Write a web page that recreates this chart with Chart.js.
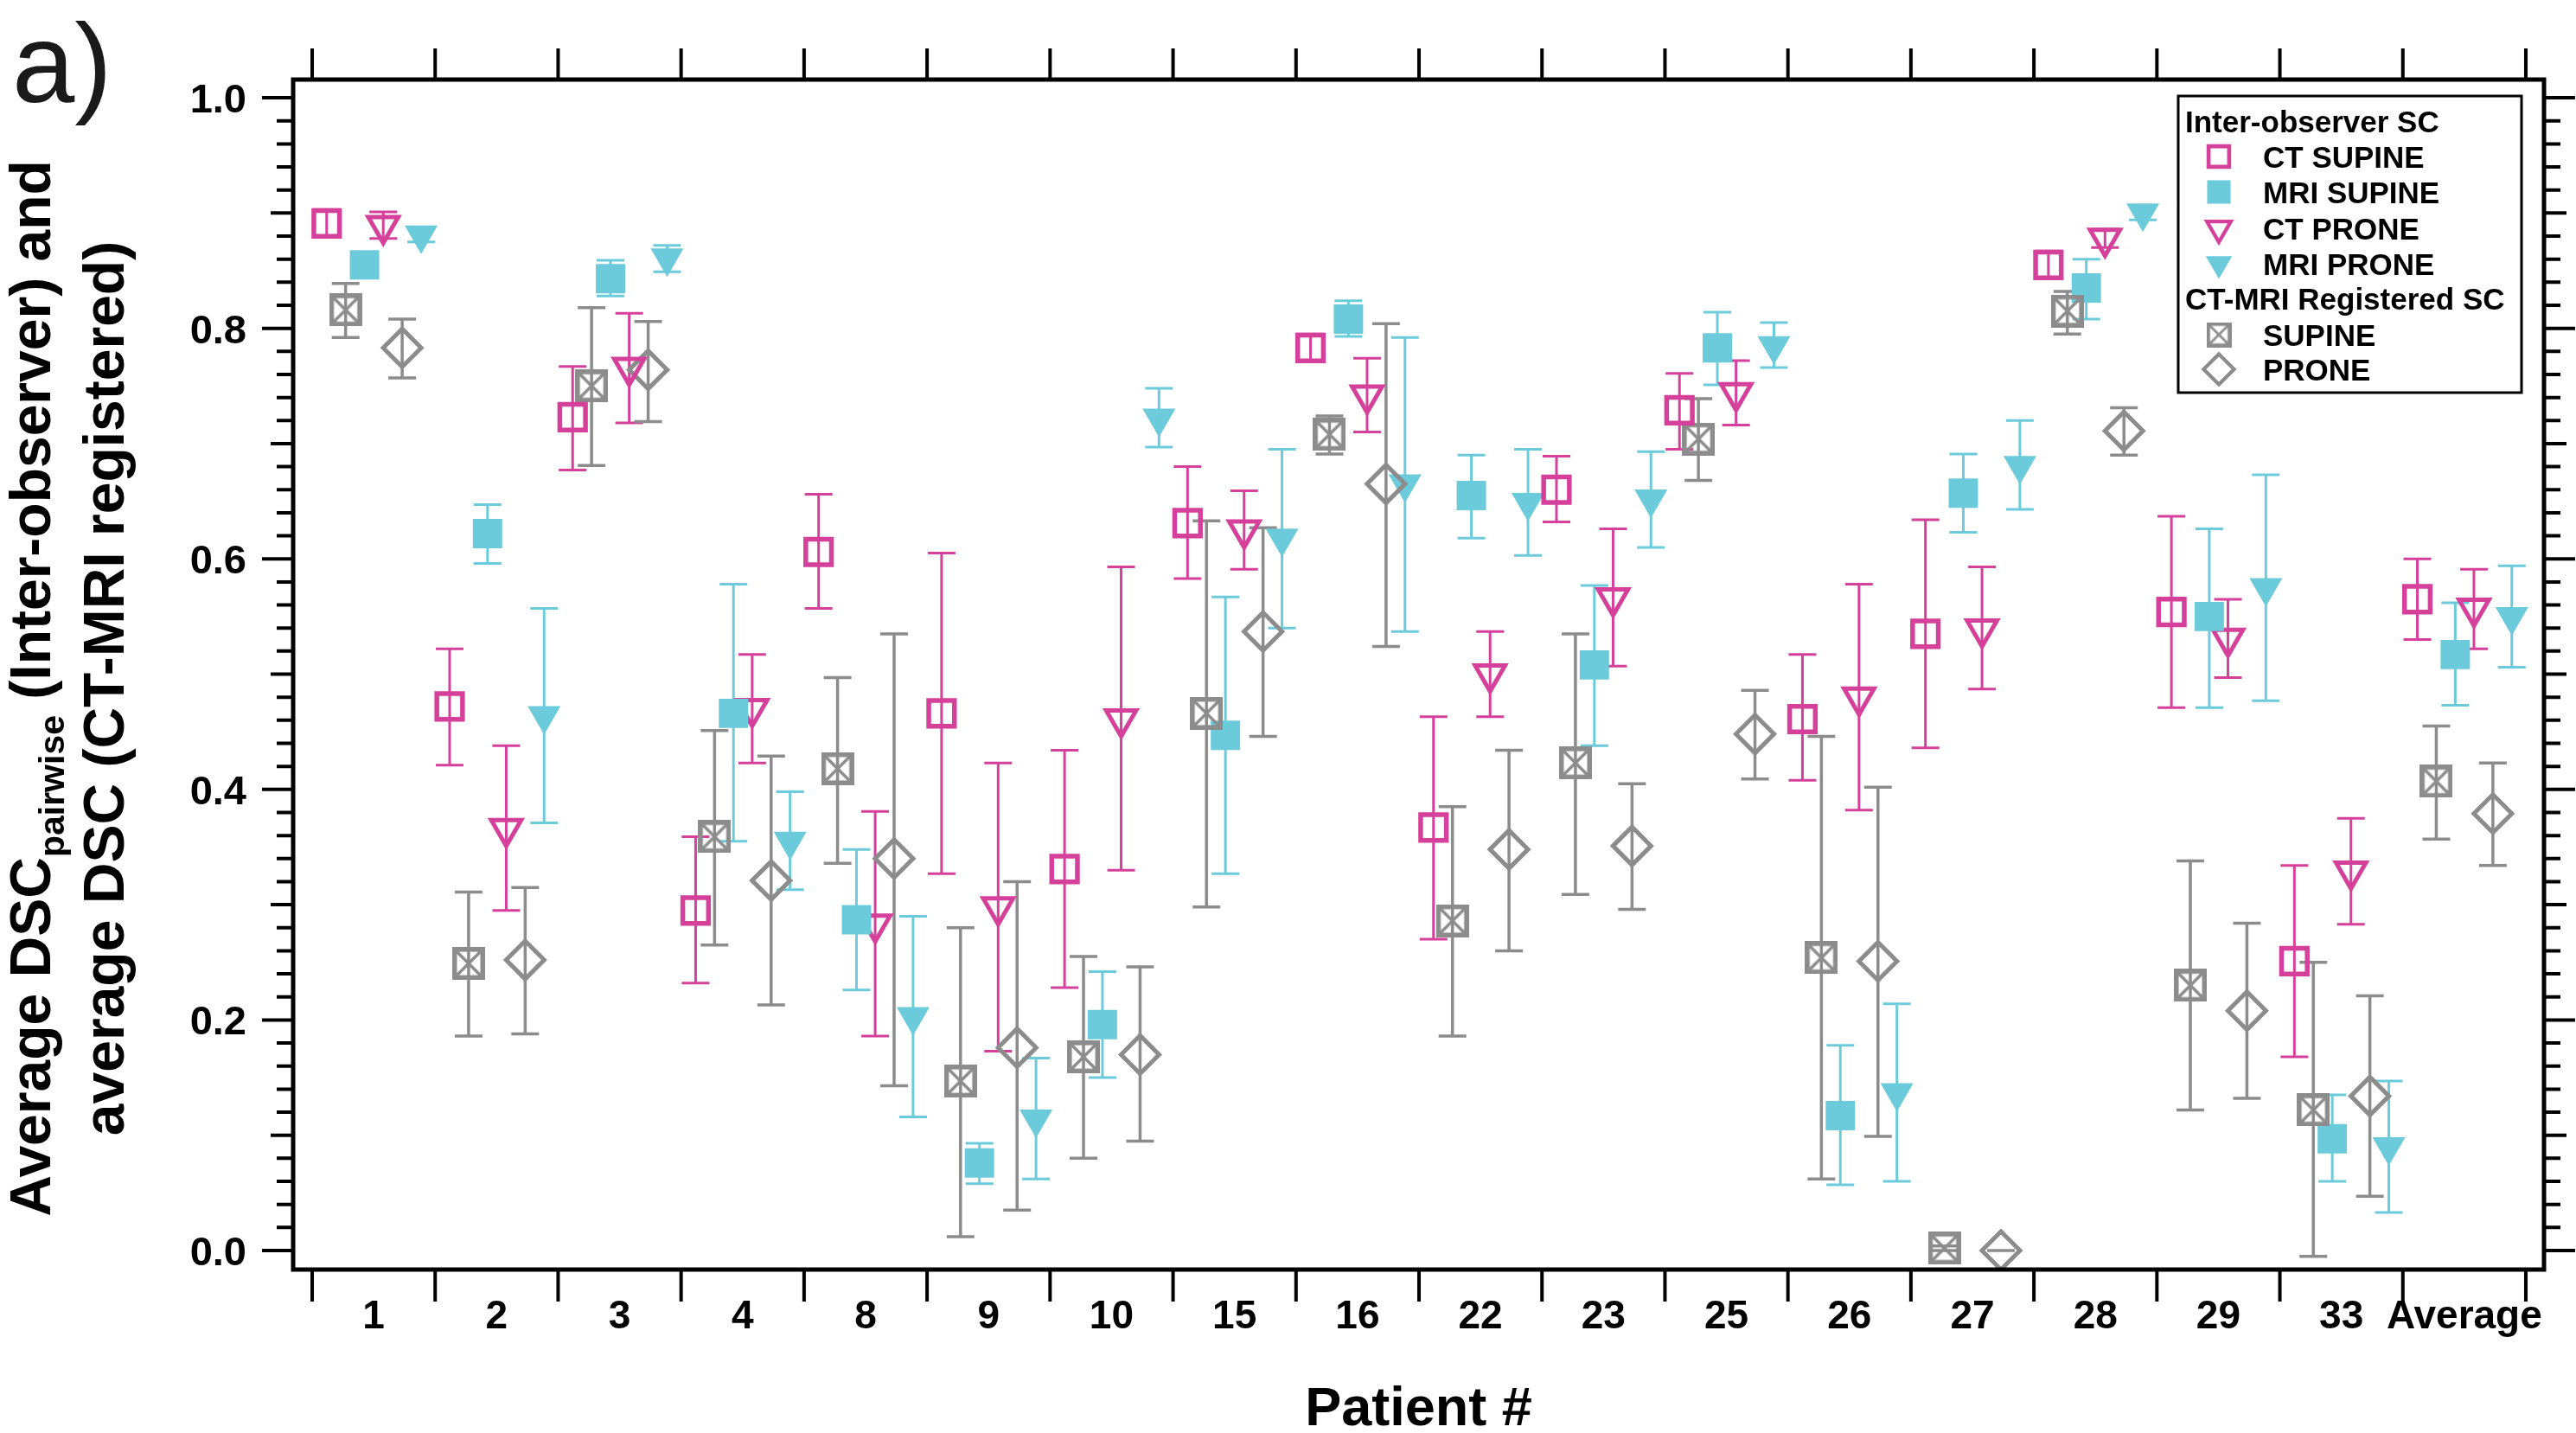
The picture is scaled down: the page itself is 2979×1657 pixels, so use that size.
<!DOCTYPE html>
<html>
<head>
<meta charset="utf-8">
<title>DSC per patient</title>
<script src="https://cdn.jsdelivr.net/npm/chart.js@4.4.1/dist/chart.umd.min.js"></script>
<style>
  html, body { margin: 0; padding: 0; background: #fff; }
  #wrap { width: 2979px; height: 1657px; }
</style>
</head>
<body>
<div id="wrap"><canvas id="dsc-chart" width="2979" height="1657"></canvas></div>
<script>
// Categories on the x axis
const patients = ['1', '2', '3', '4', '8', '9', '10', '15', '16', '22', '23', '25', '26', '27', '28', '29', '33', 'Average'];
// Labelled ticks on the y axis
const yTickValues = [0.0, 0.2, 0.4, 0.6, 0.8, 1.0];

// Inter-observer SC: CT SUPINE (mean, lower, upper)
const ctSupine   = [0.891, 0.472, 0.723, 0.295, 0.606, 0.466, 0.331, 0.631, 0.783, 0.367, 0.660, 0.729, 0.461, 0.535, 0.855, 0.554, 0.251, 0.565];
const ctSupineLo = [0.879, 0.421, 0.677, 0.232, 0.557, 0.327, 0.228, 0.583, 0.771, 0.270, 0.632, 0.695, 0.408, 0.436, 0.843, 0.471, 0.168, 0.530];
const ctSupineHi = [0.903, 0.522, 0.767, 0.359, 0.656, 0.605, 0.434, 0.680, 0.795, 0.463, 0.689, 0.761, 0.517, 0.634, 0.867, 0.637, 0.334, 0.600];

// Inter-observer SC: MRI SUPINE
const mriSupine   = [0.855, 0.622, 0.843, 0.466, 0.287, 0.076, 0.196, 0.447, 0.808, 0.655, 0.508, 0.783, 0.117, 0.657, 0.835, 0.550, 0.097, 0.517];
const mriSupineLo = [0.845, 0.596, 0.828, 0.355, 0.226, 0.058, 0.150, 0.327, 0.793, 0.618, 0.438, 0.751, 0.057, 0.623, 0.808, 0.471, 0.060, 0.473];
const mriSupineHi = [0.865, 0.647, 0.859, 0.578, 0.348, 0.093, 0.242, 0.567, 0.824, 0.690, 0.577, 0.814, 0.178, 0.691, 0.860, 0.626, 0.135, 0.562];

// Inter-observer SC: CT PRONE
const ctProne   = [0.889, 0.366, 0.766, 0.470, 0.283, 0.298, 0.461, 0.625, 0.742, 0.500, 0.566, 0.744, 0.480, 0.539, 0.878, 0.531, 0.329, 0.557];
const ctProneLo = [0.878, 0.295, 0.718, 0.423, 0.186, 0.173, 0.330, 0.591, 0.710, 0.463, 0.507, 0.716, 0.382, 0.487, 0.870, 0.497, 0.283, 0.522];
const ctProneHi = [0.901, 0.438, 0.813, 0.517, 0.381, 0.423, 0.593, 0.659, 0.774, 0.537, 0.626, 0.772, 0.578, 0.593, 0.886, 0.565, 0.375, 0.591];

// Inter-observer SC: MRI PRONE
const mriProne   = [0.881, 0.464, 0.861, 0.355, 0.203, 0.114, 0.722, 0.618, 0.665, 0.649, 0.652, 0.785, 0.137, 0.681, 0.900, 0.575, 0.090, 0.550];
const mriProneLo = [0.875, 0.371, 0.849, 0.313, 0.116, 0.062, 0.697, 0.540, 0.537, 0.603, 0.610, 0.766, 0.060, 0.643, 0.894, 0.477, 0.033, 0.506];
const mriProneHi = [0.887, 0.557, 0.872, 0.398, 0.290, 0.167, 0.748, 0.695, 0.792, 0.695, 0.693, 0.805, 0.214, 0.720, 0.906, 0.673, 0.147, 0.594];

// CT-MRI Registered SC: SUPINE
const regSupine   = [0.816, 0.249, 0.750, 0.359, 0.418, 0.147, 0.168, 0.466, 0.708, 0.286, 0.423, 0.704, 0.254, 0.002, 0.815, 0.230, 0.122, 0.407];
const regSupineLo = [0.792, 0.186, 0.681, 0.265, 0.336, 0.012, 0.080, 0.298, 0.691, 0.186, 0.309, 0.668, 0.062, 0.000, 0.795, 0.122, -0.005, 0.357];
const regSupineHi = [0.839, 0.311, 0.818, 0.451, 0.497, 0.280, 0.255, 0.633, 0.724, 0.385, 0.535, 0.739, 0.446, 0.004, 0.832, 0.338, 0.250, 0.455];

// CT-MRI Registered SC: PRONE
const regProne   = [0.783, 0.252, 0.764, 0.321, 0.340, 0.176, 0.170, 0.537, 0.665, 0.348, 0.351, 0.448, 0.251, 0.000, 0.711, 0.208, 0.134, 0.379];
const regProneLo = [0.757, 0.188, 0.719, 0.213, 0.143, 0.035, 0.095, 0.446, 0.524, 0.260, 0.296, 0.409, 0.099, 0.000, 0.690, 0.132, 0.047, 0.334];
const regProneHi = [0.808, 0.315, 0.806, 0.429, 0.535, 0.320, 0.246, 0.627, 0.804, 0.434, 0.405, 0.486, 0.402, 0.000, 0.731, 0.284, 0.221, 0.423];

const MAGENTA = '#d4409a';
const CYAN = '#6ccbdb';
const GRAY = '#8c8c8c';
const NONE = 'rgba(0,0,0,0)';
const FONT = '"Liberation Sans", Arial, Helvetica, sans-serif';

// where each series sits inside its patient slot (in category units)
const slotOffsets = [-0.382, -0.228, -0.074, 0.078, 0.232, 0.386];

// square with an X inside, used as point style for the registered SUPINE series
function makeBoxX(size, lw, color) {
    const c = document.createElement('canvas');
    c.width = size;
    c.height = size;
    const g = c.getContext('2d');
    const h = lw / 2;
    g.strokeStyle = color;
    g.lineWidth = lw;
    g.strokeRect(h, h, size - lw, size - lw);
    g.lineWidth = lw * 0.65;
    g.beginPath();
    g.moveTo(h, h); g.lineTo(size - h, size - h);
    g.moveTo(size - h, h); g.lineTo(h, size - h);
    g.stroke();
    return c;
}
const boxX = makeBoxX(38, 5.5, GRAY);
const boxXSmall = makeBoxX(29, 4.4, GRAY);

function makeSet(label, mean, lo, hi, slot, style) {
    return Object.assign({
        label: label,
        data: mean.map((v, i) => ({ x: i + slotOffsets[slot], y: v })),
        lo: lo,
        hi: hi
    }, style);
}

const datasets = [
    makeSet('CT SUPINE', ctSupine, ctSupineLo, ctSupineHi, 0, {
        pointStyle: 'rect', pointRadius: 21, pointBorderWidth: 5.5,
        pointBorderColor: MAGENTA, pointBackgroundColor: NONE, barColor: MAGENTA, barWidth: 3
    }),
    makeSet('SUPINE', regSupine, regSupineLo, regSupineHi, 1, {
        pointStyle: boxX, pointRadius: 19, pointBorderWidth: 0,
        pointBorderColor: GRAY, pointBackgroundColor: NONE, barColor: GRAY, barWidth: 3.5,
        legendImage: boxXSmall
    }),
    makeSet('MRI SUPINE', mriSupine, mriSupineLo, mriSupineHi, 2, {
        pointStyle: 'rect', pointRadius: 24, pointBorderWidth: 0,
        pointBorderColor: CYAN, pointBackgroundColor: CYAN, barColor: CYAN, barWidth: 3
    }),
    makeSet('CT PRONE', ctProne, ctProneLo, ctProneHi, 3, {
        pointStyle: 'triangle', pointRotation: 180, pointRadius: 20, pointBorderWidth: 5,
        pointBorderColor: MAGENTA, pointBackgroundColor: NONE, barColor: MAGENTA, barWidth: 3
    }),
    makeSet('PRONE', regProne, regProneLo, regProneHi, 4, {
        pointStyle: 'rectRot', pointRadius: 22, pointBorderWidth: 5,
        pointBorderColor: GRAY, pointBackgroundColor: NONE, barColor: GRAY, barWidth: 3.5
    }),
    makeSet('MRI PRONE', mriProne, mriProneLo, mriProneHi, 5, {
        pointStyle: 'triangle', pointRotation: 180, pointRadius: 22, pointBorderWidth: 0,
        pointBorderColor: CYAN, pointBackgroundColor: CYAN, barColor: CYAN, barWidth: 3
    })
];

// legend layout: group headers and the dataset index shown on each row
const legendRows = [
    { text: 'Inter-observer SC' },
    { text: 'CT SUPINE', set: 0 },
    { text: 'MRI SUPINE', set: 2 },
    { text: 'CT PRONE', set: 3 },
    { text: 'MRI PRONE', set: 5 },
    { text: 'CT-MRI Registered SC' },
    { text: 'SUPINE', set: 1 },
    { text: 'PRONE', set: 4 }
];

// vertical error bars with caps, drawn under the markers
const errorBars = {
    id: 'errorBars',
    beforeDatasetsDraw(chart) {
        const { ctx, scales: { x, y } } = chart;
        chart.data.datasets.forEach(ds => {
            ctx.save();
            ctx.strokeStyle = ds.barColor;
            ctx.lineWidth = ds.barWidth;
            ds.data.forEach((p, i) => {
                const px = x.getPixelForValue(p.x);
                const top = y.getPixelForValue(ds.hi[i]);
                const bot = y.getPixelForValue(ds.lo[i]);
                ctx.beginPath();
                ctx.moveTo(px, top); ctx.lineTo(px, bot);
                ctx.moveTo(px - 16, top); ctx.lineTo(px + 16, top);
                ctx.moveTo(px - 16, bot); ctx.lineTo(px + 16, bot);
                ctx.stroke();
            });
            ctx.restore();
        });
    }
};

// frame, tick marks on all four sides, tick labels and axis titles
const frameAxes = {
    id: 'frameAxes',
    afterDraw(chart) {
        const { ctx, chartArea: a, scales: { x, y } } = chart;
        ctx.save();
        ctx.strokeStyle = '#000';
        ctx.fillStyle = '#000';

        ctx.lineWidth = 4;
        ctx.beginPath();
        for (let k = 0; k <= 50; k++) {
            const py = y.getPixelForValue(k * 0.02);
            const len = k % 10 === 0 ? 36 : (k % 5 === 0 ? 26 : 19);
            ctx.moveTo(a.left - len, py); ctx.lineTo(a.left, py);
            ctx.moveTo(a.right, py); ctx.lineTo(a.right + len, py);
        }
        for (let i = 0; i <= patients.length; i++) {
            const px = x.getPixelForValue(i - 0.5);
            ctx.moveTo(px, a.top - 36); ctx.lineTo(px, a.top);
            ctx.moveTo(px, a.bottom); ctx.lineTo(px, a.bottom + 37);
        }
        ctx.stroke();

        ctx.lineWidth = 5;
        ctx.strokeRect(a.left, a.top, a.right - a.left, a.bottom - a.top);

        ctx.font = 'bold 47px ' + FONT;
        ctx.textAlign = 'right';
        ctx.textBaseline = 'alphabetic';
        yTickValues.forEach(v => {
            ctx.fillText(v.toFixed(1), a.left - 54, y.getPixelForValue(v) + 17);
        });
        ctx.textAlign = 'center';
        ctx.font = 'bold 46px ' + FONT;
        patients.forEach((p, i) => {
            ctx.fillText(p, x.getPixelForValue(i), 1536);
        });

        ctx.font = 'bold 63px ' + FONT;
        ctx.fillText('Patient #', (a.left + a.right) / 2, 1648);

        // rotated y title, first line carries a subscript
        ctx.translate(0, 796);
        ctx.rotate(-Math.PI / 2);
        ctx.textAlign = 'left';
        const big = 'bold 66px ' + FONT, small = 'bold 41px ' + FONT;
        const parts = [['Average DSC', big, 0], ['pairwise', small, 16], [' (Inter-observer) and', big, 0]];
        let total = 0;
        parts.forEach(pt => { ctx.font = pt[1]; total += ctx.measureText(pt[0]).width; });
        let u = -total / 2;
        parts.forEach(pt => {
            ctx.font = pt[1];
            ctx.fillText(pt[0], u, 58 + pt[2]);
            u += ctx.measureText(pt[0]).width;
        });
        ctx.font = big;
        ctx.textAlign = 'center';
        ctx.fillText('average DSC (CT-MRI registered)', 0, 143);
        ctx.restore();

        ctx.save();
        ctx.fillStyle = '#1a1a1a';
        ctx.font = '130px ' + FONT;
        ctx.fillText('a)', 14, 118);
        ctx.restore();
    }
};

// boxed legend in the upper right corner with two group headers
const groupLegend = {
    id: 'groupLegend',
    afterDraw(chart) {
        const ctx = chart.ctx;
        const sets = chart.data.datasets;
        ctx.save();
        ctx.strokeStyle = '#000';
        ctx.lineWidth = 3;
        ctx.strokeRect(2519, 111, 397, 343);
        ctx.fillStyle = '#000';
        ctx.font = 'bold 35px ' + FONT;
        ctx.textBaseline = 'alphabetic';
        const rowY = [140, 181, 222, 264, 305, 345, 387, 427];
        legendRows.forEach((row, r) => {
            const cy = rowY[r];
            if (row.set === undefined) {
                ctx.fillStyle = '#000';
                ctx.fillText(row.text, 2527, cy + 12.5);
                return;
            }
            const ds = sets[row.set];
            if (ds.legendImage) {
                const img = ds.legendImage;
                ctx.drawImage(img, 2566 - img.width / 2, cy - img.height / 2);
            } else if (Chart.helpers && Chart.helpers.drawPoint) {
                ctx.save();
                ctx.fillStyle = ds.pointBackgroundColor;
                ctx.strokeStyle = ds.pointBorderColor;
                ctx.lineWidth = ds.pointBorderWidth * 0.85;
                Chart.helpers.drawPoint(ctx, {
                    pointStyle: ds.pointStyle,
                    rotation: ds.pointRotation || 0,
                    radius: ds.pointRadius * 0.8,
                    borderWidth: ds.pointBorderWidth * 0.85
                }, 2566, cy);
                ctx.restore();
            }
            ctx.fillStyle = '#000';
            ctx.fillText(row.text, 2617, cy + 12.5);
        });
        ctx.restore();
    }
};

new Chart(document.getElementById('dsc-chart'), {
    type: 'scatter',
    data: { datasets: datasets },
    options: {
        responsive: false,
        devicePixelRatio: 1,
        animation: false,
        layout: { padding: { left: 339, right: 37, top: 92, bottom: 189 } },
        scales: {
            x: { type: 'linear', display: false, min: -0.6547, max: 17.6477 },
            y: { type: 'linear', display: false, min: -0.0165, max: 1.0158 }
        },
        plugins: {
            legend: { display: false },
            tooltip: { enabled: false }
        }
    },
    plugins: [errorBars, frameAxes, groupLegend]
});
</script>
</body>
</html>
